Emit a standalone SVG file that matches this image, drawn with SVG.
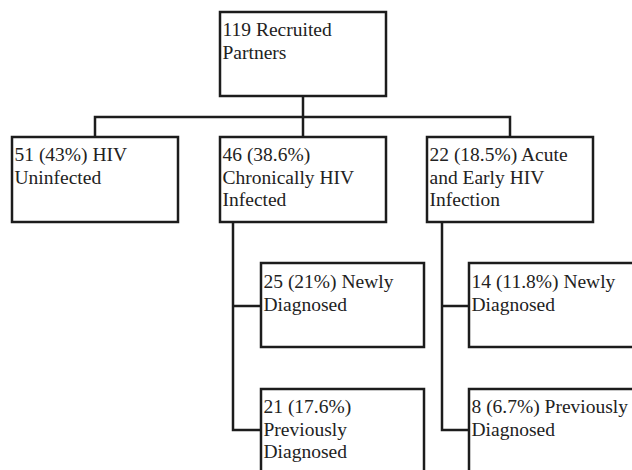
<svg xmlns="http://www.w3.org/2000/svg" width="632" height="470" viewBox="0 0 632 470">
<style>
.box{fill:#fff;stroke:#1c1c1c;stroke-width:2.5}
.lbl{font-family:'Liberation Serif','Times New Roman','DejaVu Serif',serif;font-size:19.5px;fill:#222}
.conn{fill:none;stroke:#1c1c1c;stroke-width:2.5}
</style>
<rect width="632" height="470" fill="#fff"/>
<g id="connectors">
<path class="conn" d="M303 96V117M95 137V117H510V137M303 117V137"/>
<path class="conn" d="M233 222V430H261M233 306H261"/>
<path class="conn" d="M442 222V430H469M442 306H469"/>
</g>
<g id="n-root"><rect class="box" x="220" y="12" width="166" height="84"/>
<text class="lbl" x="222.5" y="36">119 Recruited</text><text class="lbl" x="222.5" y="58.5">Partners</text></g>
<g id="n-uninfected"><rect class="box" x="12" y="137" width="166" height="85"/>
<text class="lbl" x="14.5" y="161">51 (43%) HIV</text><text class="lbl" x="14.5" y="183.5">Uninfected</text></g>
<g id="n-chronic"><rect class="box" x="220" y="137" width="166" height="85"/>
<text class="lbl" x="222.5" y="161">46 (38.6%)</text><text class="lbl" x="222.5" y="183.5">Chronically HIV</text><text class="lbl" x="222.5" y="206">Infected</text></g>
<g id="n-acute"><rect class="box" x="427" y="137" width="166" height="85"/>
<text class="lbl" x="429.5" y="161">22 (18.5%) Acute</text><text class="lbl" x="429.5" y="183.5">and Early HIV</text><text class="lbl" x="429.5" y="206">Infection</text></g>
<g id="n-chronic-new"><rect class="box" x="261" y="263" width="163" height="84"/>
<text class="lbl" x="263.5" y="288">25 (21%) Newly</text><text class="lbl" x="263.5" y="310.5">Diagnosed</text></g>
<g id="n-acute-new"><rect class="box" x="469" y="263" width="170" height="84"/>
<text class="lbl" x="471.5" y="288">14 (11.8%) Newly</text><text class="lbl" x="471.5" y="310.5">Diagnosed</text></g>
<g id="n-chronic-prev"><rect class="box" x="261" y="389" width="163" height="90"/>
<text class="lbl" x="263.5" y="413">21 (17.6%)</text><text class="lbl" x="263.5" y="435.5">Previously</text><text class="lbl" x="263.5" y="458">Diagnosed</text></g>
<g id="n-acute-prev"><rect class="box" x="469" y="389" width="170" height="90"/>
<text class="lbl" x="471.5" y="413">8 (6.7%) Previously</text><text class="lbl" x="471.5" y="435.5">Diagnosed</text></g>
</svg>
